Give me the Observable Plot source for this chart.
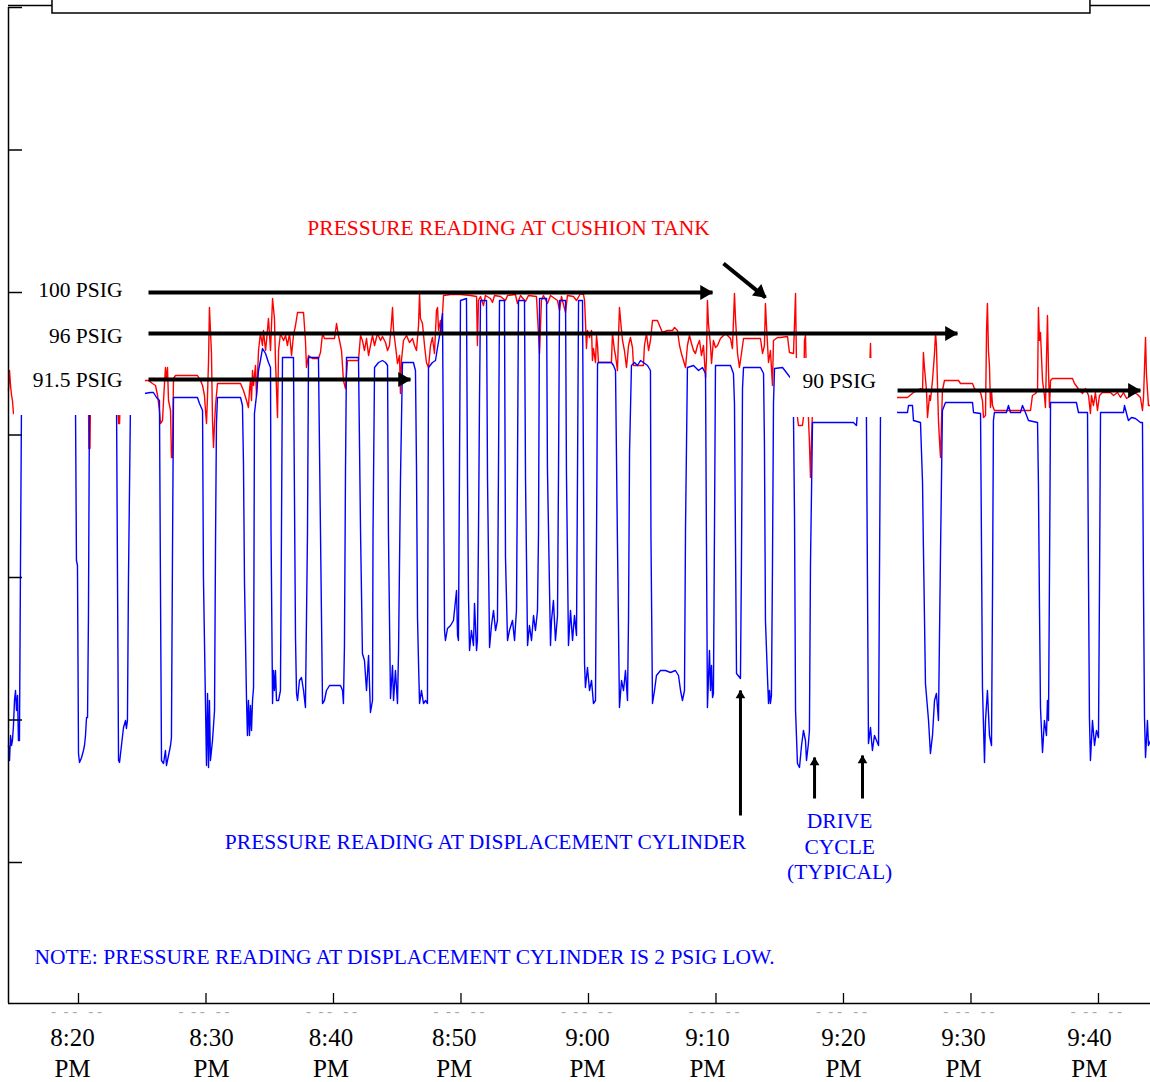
<!DOCTYPE html>
<html><head><meta charset="utf-8">
<script src="https://cdn.jsdelivr.net/npm/d3@7"></script>
<script src="https://cdn.jsdelivr.net/npm/@observablehq/plot@0.6"></script>
<style>body{margin:0;background:#fff}</style>
</head><body><div id="chart"></div>
<script>
// time = minutes after 8:00 PM, value = PSIG
const tankSeries = [
[14.51,90.2],[14.59,92.2],[14.67,90.7],[14.75,89.7],[14.82,89.2],[14.90,87.9],[14.98,87.9],[15.06,88.2],[15.45,90.7],[16.24,91.2],[18.59,91.2],[20.63,90.7],[20.78,89.2],[20.82,84.4],[20.90,84.4],[20.94,89.2],[21.10,90.7],[23.06,90.7],[23.14,86.9],[23.22,86.9],[23.29,90.2],[25.25,91.2],
[25.49,91.2],[25.80,90.9],[26.04,90.7],[26.20,89.7],[26.35,88.2],[26.43,86.9],[26.59,87.2],[26.67,89.2],[26.82,92.5],[26.90,91.2],[26.98,92.5],[27.06,89.2],[27.22,88.2],[27.29,83.5],[27.37,83.5],[27.45,91.4],[27.61,91.7],[29.33,91.7],
[29.57,91.2],[29.73,90.7],[29.88,89.7],[29.96,88.2],[30.04,86.9],[30.12,89.7],[30.20,93.2],[30.27,98.5],[30.35,96.2],[30.43,93.9],[30.51,87.2],[30.59,84.5],[30.67,86.9],[30.75,88.7],[30.90,90.9],[32.71,90.9],
[32.94,90.2],[33.18,89.2],[33.33,88.5],[33.41,90.2],[33.49,91.2],[33.57,89.2],[33.65,92.2],[33.73,90.7],[33.88,92.7],[33.96,89.7],[34.04,91.7],[34.12,94.2],[34.27,95.9],[34.43,94.7],[34.51,96.2],[34.67,94.2],[34.75,95.2],[34.90,97.4],[35.06,94.2],[35.22,99.4],[35.37,97.4],[35.45,93.2],[35.61,87.5],[35.69,94.2],[35.84,95.9],
[36.08,95.2],[36.24,95.7],[36.39,94.7],[36.55,95.9],[36.71,93.7],[36.86,95.7],[37.02,96.7],[37.18,98.0],[37.65,98.0],[37.80,95.2],[37.88,92.5],[38.04,93.7],[38.35,93.4],[38.82,93.4],[38.98,94.0],[39.14,95.9],[39.29,95.4],[40.08,95.4],[40.24,96.9],[40.39,95.7],[40.63,94.2],[40.78,91.2],[40.94,90.4],[41.10,93.2],[41.96,93.2],
[42.12,95.7],[42.27,95.2],[42.43,94.2],[42.59,95.4],[42.75,93.7],[42.90,94.7],[43.06,95.7],[43.22,94.7],[43.45,95.9],[43.69,95.2],[43.84,95.6],[44.08,95.0],[44.24,94.2],[44.39,94.7],[44.55,97.0],[44.63,98.5],[44.71,96.2],[44.86,94.7],[45.02,92.9],[45.18,93.7],[45.25,89.9],[45.33,93.2],[45.49,95.2],[45.73,95.7],[45.96,95.0],[46.20,95.4],[46.35,94.7],[46.51,94.2],[46.67,96.7],[46.75,99.9],[46.82,97.4],[46.98,96.9],[47.14,94.7],[47.29,93.0],[47.45,92.5],[47.61,94.7],[47.76,95.5],[47.92,93.9],[48.08,98.2],[48.16,98.5],[48.24,96.2],[48.39,97.2],[48.47,96.0],
[48.63,99.7],[49.18,99.8],[49.96,99.8],[50.75,99.7],[51.22,99.6],[51.29,94.7],[51.37,99.2],[51.53,99.6],[51.76,98.7],[51.92,99.7],[52.31,99.4],[52.47,99.0],[52.63,99.7],[53.10,99.6],[53.49,99.2],[53.65,99.7],[54.27,99.8],[54.43,98.9],[54.67,99.7],[55.06,99.1],[55.29,99.7],[55.92,99.6],[56.16,93.9],[56.31,99.2],[56.47,99.7],[56.78,98.9],[57.02,99.7],[57.57,99.2],[57.73,98.2],[57.88,99.6],[58.20,98.0],[58.35,99.7],[58.82,99.6],[59.06,99.2],[59.37,99.9],[59.61,99.8],
[59.69,99.2],[59.76,97.2],[59.84,94.4],[59.92,96.2],[60.08,95.5],[60.24,96.2],[60.31,93.2],[60.39,94.4],[60.55,93.0],[60.63,95.7],[60.71,94.7],[60.78,93.0],[61.80,93.0],[61.88,95.9],[62.04,94.2],[62.12,93.7],[62.27,92.2],[62.43,98.5],[62.59,96.2],[62.67,95.2],[62.82,94.2],[62.98,92.5],[63.14,94.7],[63.29,95.5],[63.45,94.5],[63.53,92.7],[64.31,92.7],[64.39,94.7],[64.55,95.9],[64.71,94.2],[64.86,95.2],[65.02,97.2],[65.41,97.2],[65.57,96.7],[65.80,96.0],[66.20,96.2],[66.59,96.2],[66.75,96.5],[66.98,96.2],[67.14,94.7],[67.29,93.9],[67.45,93.2],[67.61,92.5],[67.76,94.7],[67.92,95.7],[68.08,94.9],[68.24,94.2],[68.39,93.9],[68.55,94.7],[68.71,95.2],[68.86,93.7],[69.02,94.7],[69.18,91.5],[69.25,93.2],[69.33,99.2],[69.41,96.9],[69.57,94.7],[69.65,92.9],[69.80,95.2],[69.96,94.5],[70.12,94.7],[70.35,95.4],[70.75,95.9],[71.14,95.4],[71.29,94.4],[71.45,99.9],[71.53,97.4],[71.69,93.9],[71.84,92.5],[72.00,93.9],[72.16,95.4],[73.49,95.4],[73.65,93.9],[73.80,94.7],[73.88,98.9],[73.96,96.7],[74.12,93.0],[74.27,94.2],[74.43,90.7],[74.51,95.2],[74.82,95.5],[75.06,95.5],[75.61,95.6],[75.76,94.0],[76.08,93.9],[76.24,99.9],[76.31,93.2],
[76.39,87.5],[76.47,86.7],[76.78,86.7],[76.86,87.5],[76.94,95.2],[77.02,95.7],[77.10,91.2],[77.25,87.5],[77.33,85.0],[77.41,81.5],[77.49,85.2],[77.57,88.2],[78.98,88.7],[81.96,88.7],[82.12,94.9],[82.20,89.2],[84.24,89.5],[85.02,89.5],[85.49,90.0],[86.04,90.4],[86.20,90.2],[86.27,94.0],[86.35,92.5],[86.51,90.2],[86.59,87.5],[86.75,89.7],[86.82,89.2],[86.98,91.2],[87.14,93.9],[87.22,96.0],[87.29,94.7],[87.45,87.2],[87.53,85.2],[87.61,83.5],[87.69,87.2],[87.76,90.2],[87.92,91.2],[89.02,91.2],[89.18,90.9],[90.12,90.9],[90.27,90.4],[90.75,90.0],[90.90,89.2],[90.98,87.5],[91.14,87.7],[91.22,96.2],[91.29,98.9],[91.37,94.2],[91.45,92.7],[91.53,88.5],[91.61,90.2],[91.69,88.7],[91.84,88.2],
[94.67,88.2],[94.82,89.7],[95.06,89.9],[95.22,90.2],[95.29,98.5],[95.37,95.2],[95.45,96.0],[95.61,91.2],[95.76,89.7],[95.84,88.5],[95.92,93.2],[96.00,97.7],[96.08,92.2],[96.16,88.5],[96.24,91.2],[96.39,91.4],[97.96,91.4],[98.12,90.9],[98.35,90.5],[98.51,90.2],[98.75,89.9],[98.98,90.4],[99.22,89.7],[99.37,87.9],[99.45,89.7],[99.61,88.7],[99.76,90.0],[99.92,88.2],[100.08,89.7],[100.31,90.0],[100.94,90.0],[101.18,89.7],[101.49,90.0],[101.73,89.5],[101.96,90.0],[102.20,89.4],[102.51,89.7],[102.82,90.0],[103.06,89.8],[103.29,89.5],[103.45,88.2],[103.53,89.4],[103.69,95.5],[103.76,91.9],[103.92,88.7],[104.08,88.7]
];

const cylinderSeries = [
[14.51,54.7],[14.59,53.2],[14.67,55.7],[14.75,54.7],[14.82,55.2],[14.90,56.7],[14.98,59.2],[15.06,60.2],[15.14,58.2],[15.22,59.7],[15.29,55.2],[15.37,55.2],[15.45,72.7],[15.53,89.2],[15.6,89.7],
[19.76,89.7],[19.84,73.2],[19.92,72.7],[20.00,53.9],[20.08,53.0],[20.24,53.5],[20.39,54.2],[20.47,54.7],[20.55,55.7],[20.63,57.5],[20.71,57.5],[20.78,67.5],[20.86,89.2],[20.94,89.7],
[22.98,89.7],[23.06,71.4],[23.14,53.2],[23.22,53.0],[23.37,54.7],[23.53,56.5],[23.69,57.2],[23.76,56.4],[23.84,57.2],[23.92,71.4],[24.08,89.2],[24.16,89.7],
[25.65,90.0],[25.88,90.0],[26.12,89.5],[26.35,89.2],[26.43,70.4],[26.51,53.2],[26.67,52.9],[26.82,54.2],[26.90,52.7],[27.06,53.7],[27.22,54.7],[27.29,55.5],[27.37,73.5],[27.45,89.5],
[29.33,89.5],[29.49,88.9],[29.73,88.2],[29.80,71.5],[29.96,58.9],[30.04,52.7],[30.12,59.9],[30.20,52.5],[30.27,59.2],[30.35,53.2],[30.51,55.2],[30.67,58.2],[30.75,75.5],[30.82,86.9],[30.90,89.5],
[32.71,89.5],[32.86,88.7],[32.94,82.9],[33.02,71.0],[33.18,59.2],[33.25,55.7],[33.33,59.2],[33.41,55.7],[33.49,58.7],[33.57,56.2],[33.65,59.2],[33.73,60.5],[33.76,71.2],[33.80,87.9],[33.96,89.7],[34.12,92.2],[34.27,93.2],[34.43,94.4],[34.67,93.9],[34.90,93.0],[35.06,92.5],[35.10,76.2],[35.22,58.9],
[35.29,62.2],[35.37,60.2],[35.45,62.2],[35.53,59.2],[35.69,59.2],[35.84,60.2],[35.92,76.2],[36.00,93.5],
[36.86,93.5],[37.02,65.5],[37.10,59.9],[37.18,59.2],[37.33,61.2],[37.49,61.5],[37.65,60.2],[37.80,58.5],[37.96,75.9],[38.04,93.5],
[38.82,93.5],[38.98,76.0],[39.14,58.9],[39.29,59.2],[39.45,60.2],[39.69,60.7],[40.55,60.7],[40.71,60.2],[40.78,58.9],[40.86,64.7],[40.94,81.9],[41.02,93.5],
[41.96,93.5],[42.12,76.2],[42.27,63.9],[42.43,63.2],[42.59,60.2],[42.75,63.7],[42.90,58.0],[43.06,59.2],[43.10,75.9],[43.22,92.5],[43.53,93.0],[43.84,93.2],[44.08,93.0],[44.24,92.7],[44.31,75.9],[44.47,59.4],
[44.63,62.7],[44.71,59.2],[44.86,62.2],[45.02,58.9],[45.10,64.0],[45.25,81.0],[45.41,93.0],[46.27,93.0],[46.43,92.2],[46.51,82.5],[46.59,67.5],[46.67,62.9],[46.75,58.9],
[46.90,60.2],[47.06,58.9],[47.22,59.2],[47.37,58.9],[47.41,75.9],[47.45,92.5],[47.76,93.0],[48.00,93.2],[48.16,94.5],[48.39,96.2],[48.55,97.9],[48.63,82.5],[48.71,66.2],[48.78,65.2],
[48.94,66.4],[49.18,66.7],[49.41,67.2],[49.57,69.2],[49.65,70.2],[49.73,65.7],[49.80,65.2],[49.88,81.9],[49.96,99.2],[50.43,99.4],[50.51,81.5],[50.59,69.4],[50.67,64.2],
[50.82,66.2],[50.98,64.7],[51.06,68.9],[51.22,64.2],[51.29,65.2],[51.37,75.5],[51.45,88.9],[51.53,99.2],[52.00,99.2],[52.08,81.5],[52.24,64.5],
[52.39,66.7],[52.55,68.2],[52.71,66.2],[52.86,67.2],[52.94,82.2],[53.02,99.2],[53.41,99.2],[53.49,73.5],[53.65,65.2],
[53.80,66.2],[54.04,67.2],[54.20,65.2],[54.35,68.2],[54.43,82.2],[54.51,99.2],[54.98,99.2],[55.06,81.5],[55.22,64.7],
[55.37,66.7],[55.53,65.2],[55.69,67.7],[55.84,66.2],[56.00,68.2],[56.08,75.9],[56.16,99.4],[56.71,99.4],[56.78,82.5],[57.02,64.7],
[57.10,67.2],[57.25,69.2],[57.41,65.2],[57.57,67.7],[57.65,82.2],[57.73,99.2],[58.20,99.2],[58.27,82.2],[58.43,64.7],
[58.59,68.2],[58.75,65.2],[58.90,67.7],[59.06,65.7],[59.14,82.2],[59.22,99.2],[59.53,99.2],[59.61,81.5],[59.69,62.9],[59.76,60.5],
[59.92,62.5],[60.08,60.2],[60.24,61.2],[60.39,58.9],[60.55,59.2],[60.63,75.5],[60.71,92.9],[60.78,93.0],[61.80,93.0],[61.96,92.7],[62.12,92.2],[62.27,75.2],[62.43,58.5],
[62.59,61.2],[62.75,60.2],[62.90,62.2],[63.06,59.2],[63.14,67.5],[63.22,84.0],[63.37,92.7],[63.61,93.0],[63.84,92.7],[64.08,93.2],[64.31,93.0],[64.63,92.7],[64.86,92.2],[64.90,75.5],[65.02,58.9],
[65.18,60.2],[65.33,61.7],[65.65,62.2],[66.04,62.2],[66.43,62.0],[66.82,62.2],[67.06,61.7],[67.22,60.2],[67.37,59.2],[67.53,60.2],[67.61,76.4],[67.76,92.5],[68.24,92.7],[68.63,92.2],[68.94,92.5],[69.18,91.9],[69.25,75.5],[69.33,58.5],
[69.49,64.2],[69.57,60.2],[69.65,62.7],[69.73,59.5],[69.80,59.9],[69.88,75.9],[69.96,92.7],[71.14,92.7],[71.37,91.9],[71.45,88.9],[71.53,74.9],[71.61,61.9],[71.92,61.4],
[72.00,73.5],[72.08,90.4],[72.16,92.5],[73.49,92.5],[73.73,91.9],[73.80,84.9],[73.88,67.2],[74.04,61.5],[74.12,58.9],
[74.20,60.2],[74.27,58.9],[74.35,59.7],[74.43,72.5],[74.51,88.9],[74.59,92.4],[75.22,92.5],[76.00,91.2],[76.08,87.5],[76.16,77.5],[76.24,58.2],
[76.39,52.9],[76.55,52.5],[76.71,54.7],[76.86,56.2],[77.02,55.2],[77.10,53.2],[77.25,54.9],[77.33,56.2],[77.41,72.7],[77.57,87.0],[80.78,87.0],[81.02,86.7],[81.10,88.2],[81.33,89.2],[81.73,89.2],[81.80,87.5],[81.88,71.4],[81.96,54.9],
[82.12,56.5],[82.20,55.2],[82.27,54.2],[82.43,55.7],[82.59,55.2],[82.75,54.7],[82.82,71.2],[82.90,87.5],[83.06,88.7],[84.24,88.0],[85.02,88.0],[85.10,88.7],[85.41,88.7],[85.49,87.2],[86.04,87.0],[86.20,81.0],[86.27,74.5],[86.43,60.9],[86.67,57.2],[86.82,53.9],
[86.98,55.7],[87.14,59.2],[87.29,59.9],[87.45,57.2],[87.61,74.0],[87.76,88.2],[88.00,89.0],[90.12,89.0],[90.20,88.0],[90.75,87.9],[90.82,75.5],[90.90,60.5],[91.06,53.0],
[91.14,57.2],[91.29,60.2],[91.45,55.7],[91.61,54.7],[91.69,70.2],[91.76,87.2],[91.84,88.0],[92.78,88.0],[92.94,88.7],[93.10,88.0],[93.88,88.0],[94.04,88.7],[94.27,88.0],[94.51,87.2],[95.22,87.0],[95.29,80.9],[95.37,68.9],[95.45,58.5],[95.61,54.0],
[95.76,57.2],[95.92,55.7],[96.00,59.2],[96.08,57.2],[96.16,72.2],[96.24,89.0],[98.27,89.0],[98.43,88.0],[99.14,88.0],[99.22,71.0],[99.29,57.5],[99.37,53.2],
[99.53,57.2],[99.69,54.7],[99.84,56.2],[100.00,55.5],[100.08,70.5],[100.16,88.0],[101.96,88.0],[102.04,88.7],[102.20,87.9],[102.35,87.2],[102.59,87.5],[102.90,87.4],[103.29,87.0],[103.45,87.0],[103.53,70.5],[103.61,57.5],[103.69,53.5],[103.84,57.2],[103.92,54.7],[104.08,55.2]
];

const xTickMinutes = [20, 30, 40, 50, 60, 70, 80, 90, 100];
// the printed tick labels sit slightly off their ticks in the original
const xLabelMinutes = [19.53, 30.43, 39.8, 49.47, 59.92, 69.33, 80.0, 89.41, 99.29];
const xTickLabels = ["8:20\nPM","8:30\nPM","8:40\nPM","8:50\nPM","9:00\nPM","9:10\nPM","9:20\nPM","9:30\nPM","9:40\nPM"];
const yTickPsi = [128.5, 114.25, 100, 85.75, 71.5, 57.25, 43];
const xDomain = [14.51, 104.08];
const yDomain = [28.9, 128.5];

// annotations (time in minutes after 8:00 PM, pressure in PSIG)
const levelLabelsLeft = [
  {text: "100 PSIG", t: 23.45, p: 100.2},
  {text: "96 PSIG", t: 23.45, p: 95.6},
  {text: "91.5 PSIG", t: 23.45, p: 91.2}
];
const levelLabelsRight = [{text: "90 PSIG", t: 76.78, p: 91.1}];
const levelArrows = [
  {t1: 25.49, t2: 69.73, p: 100.0},
  {t1: 25.49, t2: 88.94, p: 95.9},
  {t1: 25.49, t2: 46.04, p: 91.3},
  {t1: 84.24, t2: 103.29, p: 90.2}
];
const slantArrow = [{t1: 70.59, t2: 73.88, p1: 102.9, p2: 99.5}];
const pointerArrows = [
  {t: 71.92, p1: 47.7, p2: 60.2},
  {t: 77.73, p1: 49.4, p2: 53.5},
  {t: 81.49, p1: 49.4, p2: 53.7}
];
const redNotes = [{text: "PRESSURE READING AT CUSHION TANK", t: 53.73, p: 106.4}];
const blueCentered = [
  {text: "PRESSURE READING AT DISPLACEMENT CYLINDER", t: 51.92, p: 45.0},
  {text: "DRIVE", t: 79.7, p: 47.1},
  {text: "CYCLE", t: 79.7, p: 44.5},
  {text: "(TYPICAL)", t: 79.7, p: 42.0}
];
const blueLeft = [{text: "NOTE: PRESSURE READING AT DISPLACEMENT CYLINDER IS 2 PSIG LOW.", t: 16.55, p: 33.5}];
const maskBoxes = [
  {t1: 14.98, t2: 25.25, p1: 87.7, p2: 102.2},
  {t1: 75.84, t2: 84.24, p1: 87.5, p2: 93.4}
];
const headerBox = [{t1: 17.96, t2: 99.37, p1: 127.9, p2: 131}];

const W = 1150, H = 1082, mT = 7, mB = 79, mL = 8, mR = 0;
const innerW = W - mL - mR, innerH = H - mT - mB;
const FS = 21.5;

const chart = Plot.plot({
  width: W, height: H,
  marginLeft: mL, marginRight: mR, marginTop: mT, marginBottom: mB,
  x: {domain: xDomain, axis: null},
  y: {domain: yDomain, axis: null},
  style: {fontFamily: "'Liberation Serif', 'Times New Roman', serif", background: "white"},
  marks: [
    Plot.line(tankSeries, {x: d => d[0], y: d => d[1], stroke: "#ff0000", strokeWidth: 1.4}),
    Plot.line(cylinderSeries, {x: d => d[0], y: d => d[1], stroke: "#0000ff", strokeWidth: 1.4}),
    Plot.rect(maskBoxes, {x1: "t1", x2: "t2", y1: "p1", y2: "p2", fill: "white"}),
    Plot.ruleY([128.7], {stroke: "black", strokeWidth: 1.5}),
    Plot.rect(headerBox, {x1: "t1", x2: "t2", y1: "p1", y2: "p2", fill: "white", stroke: "black", strokeWidth: 1.5}),
    Plot.ruleX([xDomain[0]], {stroke: "black", strokeWidth: 1.5}),
    Plot.ruleY([yDomain[0]], {stroke: "black", strokeWidth: 1.5}),
    Plot.tickY(yTickPsi, {y: d => d, stroke: "black", strokeWidth: 1.5, insetRight: innerW - 14}),
    Plot.tickX(xTickMinutes, {x: d => d, stroke: "black", strokeWidth: 1.3, insetTop: innerH - 10}),
    Plot.text(xTickMinutes, {x: d => d, y: yDomain[0], text: () => "-  - -   - -", dx: -2, dy: 8, fontSize: 15, fill: "#a8a8a8", lineAnchor: "middle"}),
    Plot.text(xLabelMinutes, {x: d => d, y: yDomain[0], text: (d, i) => xTickLabels[i], dy: 20, lineAnchor: "top", fontSize: 25, lineHeight: 1.25, fill: "black"}),
    Plot.text(levelLabelsLeft, {x: "t", y: "p", text: "text", textAnchor: "end", fontSize: FS, fill: "black", lineAnchor: "middle"}),
    Plot.text(levelLabelsRight, {x: "t", y: "p", text: "text", textAnchor: "start", fontSize: FS, fill: "black", lineAnchor: "middle"}),
    Plot.link(levelArrows, {x1: "t1", x2: "t2", y1: "p", y2: "p", stroke: "black", strokeWidth: 4}),
    Plot.dot(levelArrows, {x: "t2", y: "p", symbol: "triangle", r: 5.5, fill: "black", rotate: 90, dx: -8}),
    Plot.link(slantArrow, {x1: "t1", x2: "t2", y1: "p1", y2: "p2", stroke: "black", strokeWidth: 4}),
    Plot.dot(slantArrow, {x: "t2", y: "p2", symbol: "triangle", r: 5.5, fill: "black", rotate: 129, dx: -5.5, dy: -5}),
    Plot.link(pointerArrows, {x1: "t", x2: "t", y1: "p1", y2: "p2", stroke: "black", strokeWidth: 3}),
    Plot.dot(pointerArrows, {x: "t", y: "p2", symbol: "triangle", r: 3.6, fill: "black", dy: 5}),
    Plot.text(redNotes, {x: "t", y: "p", text: "text", textAnchor: "middle", fontSize: FS, fill: "#ff0000", lineAnchor: "middle"}),
    Plot.text(blueCentered, {x: "t", y: "p", text: "text", textAnchor: "middle", fontSize: FS, fill: "#0000ff", lineAnchor: "middle"}),
    Plot.text(blueLeft, {x: "t", y: "p", text: "text", textAnchor: "start", fontSize: FS, fill: "#0000ff", lineAnchor: "middle"})
  ]
});
document.getElementById("chart").appendChild(chart);
</script>
</body></html>
